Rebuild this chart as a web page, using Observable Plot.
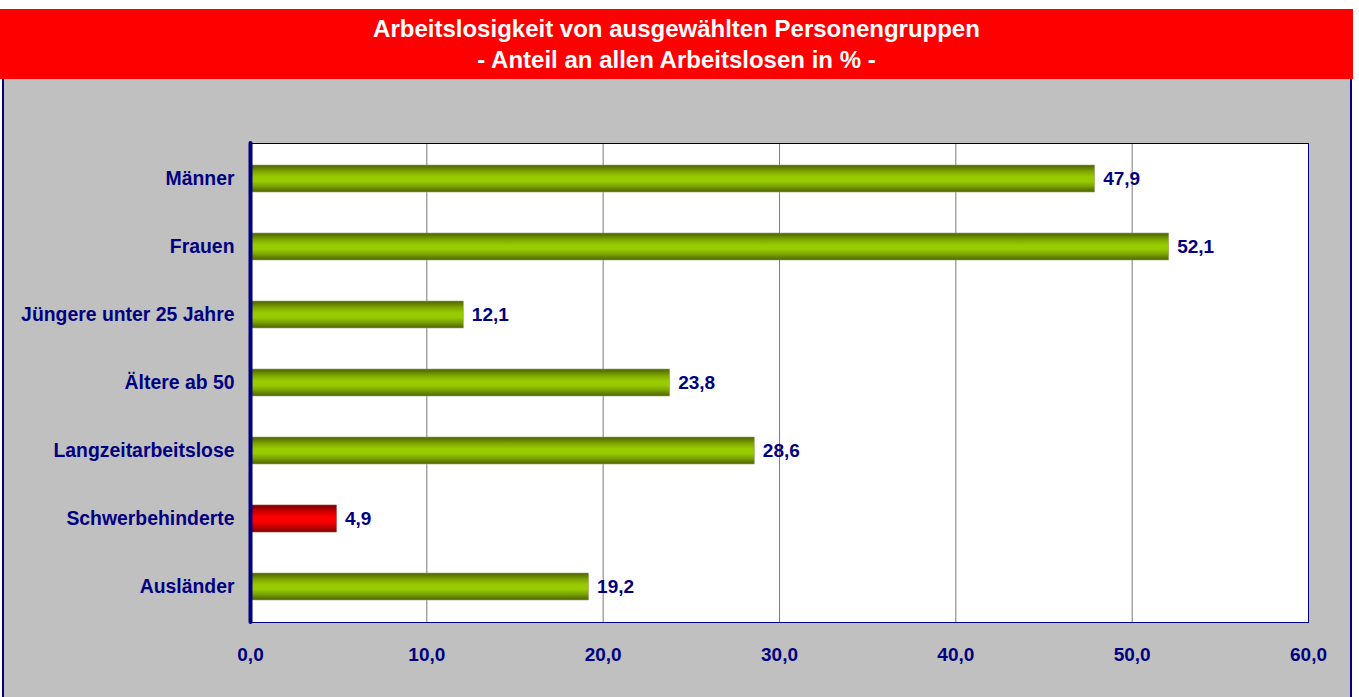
<!DOCTYPE html>
<html>
<head>
<meta charset="utf-8">
<script src="https://cdn.jsdelivr.net/npm/d3@7"></script>
<script src="https://cdn.jsdelivr.net/npm/@observablehq/plot@0.6"></script>
<style>
  html, body { margin: 0; padding: 0; background: #ffffff; width: 1359px; height: 697px; overflow: hidden; font-family: "Liberation Sans", Arial, sans-serif; }
  #title { position: absolute; left: 0; top: 9px; width: 1353px; height: 70px; background: #ff0000; color: #ffffff; font-weight: bold; font-size: 24px; text-align: center; line-height: 31px; padding-top: 4px; box-sizing: border-box; }
  #panel { position: absolute; left: 2px; top: 79px; width: 1350px; height: 640px; background: #c0c0c0; border-left: 2px solid #000080; border-right: 2px solid #000080; box-sizing: border-box; }
  #chart { position: absolute; left: 0; top: 79px; }
</style>
</head>
<body>
<div id="panel"></div>
<div id="title">Arbeitslosigkeit von ausgewählten Personengruppen<br>- Anteil an allen Arbeitslosen in % -</div>
<div id="chart"></div>
<script>
const categories = ["Männer", "Frauen", "Jüngere unter 25 Jahre", "Ältere ab 50", "Langzeitarbeitslose", "Schwerbehinderte", "Ausländer"];
const values = [47.9, 52.1, 12.1, 23.8, 28.6, 4.9, 19.2];
const highlighted = ["Schwerbehinderte"];
const xTicks = [0, 10, 20, 30, 40, 50, 60];

const data = categories.map((c, i) => ({category: c, value: values[i], hl: highlighted.includes(c)}));
const fmt = v => v.toFixed(1).replace(".", ",");
const navy = "#000080";
const fs = 19;

const plot = Plot.plot({
  width: 1359,
  height: 618,
  marginLeft: 250,
  marginRight: 51,
  marginTop: 64,
  marginBottom: 75,
  style: {background: "transparent", fontFamily: "'Liberation Sans', Arial, sans-serif", fontSize: fs + "px", fontWeight: "bold", color: navy},
  x: {domain: [0, 60], ticks: xTicks, tickFormat: fmt, label: null},
  y: {domain: categories, paddingInner: 0.6, paddingOuter: 0.3, label: null},
  marks: [
    Plot.frame({fill: "#ffffff", stroke: null}),
    Plot.gridX(xTicks.filter(t => t > 0 && t < 60), {stroke: "#7a7a7a", strokeOpacity: 1, strokeWidth: 1}),
    Plot.barX(data.filter(d => !d.hl), {x: "value", y: "category", fill: "url(#gradGreen)", stroke: "#9aa870", strokeWidth: 0.6}),
    Plot.barX(data.filter(d => d.hl), {x: "value", y: "category", fill: "url(#gradRed)", stroke: "#a04040", strokeWidth: 0.6}),
    Plot.text(data, {x: "value", y: "category", text: d => fmt(d.value), dx: 8, textAnchor: "start", fill: navy, fontWeight: "bold", fontSize: fs}),
    Plot.frame({anchor: "top", stroke: "#000000"}),
    Plot.frame({anchor: "bottom", stroke: navy}),
    Plot.frame({anchor: "right", stroke: navy}),
    Plot.ruleX([0], {stroke: navy, strokeWidth: 4, strokeLinecap: "round"}),
    Plot.axisX({ticks: xTicks, tickFormat: fmt, tickSize: 0, tickPadding: 25, fill: navy, fontWeight: "bold", fontSize: fs, label: null}),
    Plot.axisY({tickSize: 0, tickPadding: 16, fill: navy, fontWeight: "bold", fontSize: 19.4, label: null})
  ]
});

const ns = "http://www.w3.org/2000/svg";
const defs = document.createElementNS(ns, "defs");
function grad(id, stops) {
  const g = document.createElementNS(ns, "linearGradient");
  g.setAttribute("id", id);
  g.setAttribute("x1", "0"); g.setAttribute("y1", "0");
  g.setAttribute("x2", "0"); g.setAttribute("y2", "1");
  for (const [o, c] of stops) {
    const s = document.createElementNS(ns, "stop");
    s.setAttribute("offset", o);
    s.setAttribute("stop-color", c);
    g.appendChild(s);
  }
  defs.appendChild(g);
}
grad("gradGreen", [["0", "#4d6200"], ["0.25", "#7fa800"], ["0.45", "#99cc00"], ["0.6", "#99cc00"], ["0.8", "#77a000"], ["1", "#4d6200"]]);
grad("gradRed", [["0", "#7a0000"], ["0.25", "#d00000"], ["0.45", "#ff0000"], ["0.6", "#ff0000"], ["0.8", "#c80000"], ["1", "#7a0000"]]);
plot.insertBefore(defs, plot.firstChild);

document.getElementById("chart").appendChild(plot);
</script>
</body>
</html>
